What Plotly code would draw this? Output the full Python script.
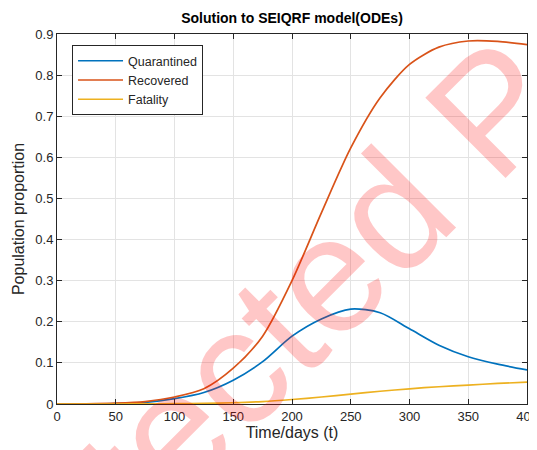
import plotly.graph_objects as go

days = [0, 25, 50, 75, 100, 125, 150, 175, 200, 225, 250, 275, 300, 325, 350, 375, 400]
quarantined = [0.0, 0.0003, 0.001, 0.004, 0.013, 0.028, 0.058, 0.103, 0.165, 0.207, 0.231,
               0.222, 0.183, 0.143, 0.115, 0.097, 0.083]
recovered = [0.0, 0.0005, 0.002, 0.006, 0.017, 0.037, 0.087, 0.165, 0.300, 0.465, 0.623,
             0.745, 0.826, 0.868, 0.883, 0.882, 0.874]
fatality = [0.0, 0.0, 0.0, 0.0003, 0.0008, 0.0015, 0.003, 0.006, 0.011, 0.017, 0.024,
            0.031, 0.037, 0.042, 0.046, 0.050, 0.053]

series_names = ["Quarantined", "Recovered", "Fatality"]
colors = ["#0072BD", "#D95319", "#EDB120"]
x_ticks = [0, 50, 100, 150, 200, 250, 300, 350, 400]
y_ticks = [0, 0.1, 0.2, 0.3, 0.4, 0.5, 0.6, 0.7, 0.8, 0.9]

FONT = "Liberation Sans, Arial, sans-serif"
AX = "#262626"
GRID = "#e3e3e3"

# the page body has an 8px default margin; figure size compensates for it
W, H = 529, 442

fig = go.Figure()
for name, vals, c in zip(series_names, [quarantined, recovered, fatality], colors):
    fig.add_trace(go.Scatter(x=days, y=vals, name=name, mode="lines",
                             line=dict(color=c, width=1.7, shape="spline", smoothing=0.8)))

axis_common = dict(showline=True, linecolor=AX, linewidth=1, mirror="ticks",
                   ticks="inside", ticklen=5, tickcolor=AX, showgrid=True,
                   gridcolor=GRID, gridwidth=1, zeroline=False, automargin=False,
                   ticklabeloverflow="allow",
                   tickfont=dict(family=FONT, size=13, color=AX))

fig.update_xaxes(range=[0, 400], tickvals=x_ticks, ticktext=[str(v) for v in x_ticks],
                 title=dict(text="Time/days (t)", font=dict(family=FONT, size=16, color=AX),
                            standoff=2),
                 **axis_common)
fig.update_yaxes(range=[0, 0.9], tickvals=y_ticks, ticktext=["0"] + [f"{v:.1f}" for v in y_ticks[1:]],
                 title=dict(text="Population proportion", font=dict(family=FONT, size=16, color=AX),
                            standoff=6),
                 **axis_common)

fig.update_layout(
    width=W, height=H,
    margin=dict(l=49, r=10, t=26, b=46),
    paper_bgcolor="white", plot_bgcolor="white",
    title=dict(text="<b>Solution to SEIQRF model(ODEs)</b>", x=0.5, xref="paper",
               y=1 - 10 / H, yref="container", yanchor="middle", xanchor="center",
               font=dict(family=FONT, size=14, color="black")),
    legend=dict(x=0.032, y=0.97, xanchor="left", yanchor="top", bgcolor="white",
                bordercolor=AX, borderwidth=1, itemwidth=45,
                font=dict(family=FONT, size=12.5, color=AX), tracegroupgap=0),
    showlegend=True,
)

fig.add_annotation(text="Protected P", xref="paper", yref="paper", x=0.366, y=0.08,
                   xanchor="center", yanchor="middle", showarrow=False, textangle=-45,
                   font=dict(family=FONT, size=165, color="rgba(255,0,0,0.22)"))

fig.write_html("out.html")
